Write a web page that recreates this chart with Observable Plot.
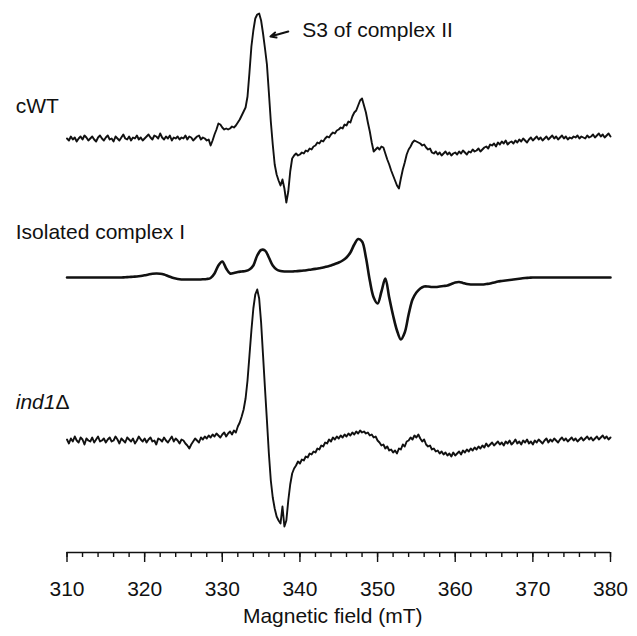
<!DOCTYPE html>
<html>
<head>
<meta charset="utf-8">
<script src="https://cdn.jsdelivr.net/npm/d3@7"></script>
<script src="https://cdn.jsdelivr.net/npm/@observablehq/plot@0.6"></script>
<style>
  html, body { margin: 0; padding: 0; background: #fff; }
  #chart svg { display: block; }
</style>
</head>
<body>
<div id="chart"></div>
<script>
// ---- Data ----
const fieldStart = 310;      // mT
const noisyStep = 0.25;      // mT per sample (cWT, ind1Δ)
const smoothStep = 0.5;      // mT per sample (isolated complex I)

// cWT spectrum, one row = 5 mT
const cwtSignal = [
  0,-2,2,-1,1,-3,0,2,-1,3,1,-2,0,2,-1,-3,1,3,0,-2,
  1,3,-1,0,-3,2,0,-2,1,4,0,-1,2,-2,1,0,3,-1,1,-2,
  0,2,4,1,-1,3,2,0,5,1,-1,2,0,3,-2,1,0,2,-1,1,
  0,3,-1,2,1,-2,0,2,3,-1,1,0,-2,-1,-7,-2,4,9,15,14,
  11,9,10,9,10,12,11,13,16,19,23,27,31,42,66,92,108,120,124,125,
  118,105,90,74,46,17,-6,-26,-36,-42,-47,-41,-50,-64,-53,-33,-20,-17,-15,-17,
  -16,-14,-15,-12,-13,-10,-11,-8,-7,-4,-5,-2,-3,0,2,1,4,6,5,8,
  9,11,10,14,13,17,16,22,26,28,33,38,40,33,26,16,7,-4,-13,-11,
  -9,-11,-8,-9,-15,-21,-26,-32,-37,-42,-47,-50,-40,-31,-24,-16,-11,-8,-4,-2,
  -3,-4,-5,-7,-6,-9,-11,-10,-14,-15,-13,-16,-14,-17,-15,-13,-16,-14,-17,-15,
  -14,-16,-13,-15,-12,-14,-16,-13,-14,-11,-13,-12,-10,-13,-11,-9,-8,-10,-6,-7,
  -5,-8,-4,-6,-3,-5,-2,-6,-4,-3,-5,-2,-4,-1,-3,0,-2,-4,-1,1,
  -2,0,2,-1,1,-2,0,2,-1,1,3,0,2,-1,1,3,0,2,-1,1,
  0,2,1,3,0,2,1,0,3,1,2,4,1,3,5,2,4,1,3,5,
  2
];

// Isolated complex I spectrum, one row = 5 mT
const complexISignal = [
  0,0,0,0,0,0,0,0,0,0,
  0,0,0,0,0,0.3,0.5,0.8,1,1.5,
  2.2,3,3.7,4,3.8,3,1.5,0,-1,-1.7,
  -2,-2,-2,-2,-2,-1.8,-1.5,-0.5,4,12,
  16,9,4,4.5,5.5,6,6.5,8,12,22,
  27.5,27,20,12,8,6.5,6,6,6,6.3,
  6.6,7,7.5,8,8.6,9.3,10,11,12,13.5,
  15,17,20,25,33,38.5,36,20,-3,-20,
  -26,-14,-1,-20,-38,-53,-62,-55,-37,-22,
  -15,-11,-9,-9,-9.5,-9.5,-9,-8.5,-8,-6.5,
  -5,-4.5,-5.5,-6.5,-7,-7,-7,-7,-6.5,-6,
  -5,-4,-3.5,-3,-2.5,-2,-1.5,-1,-0.5,-0.3,
  0,0,0,0,0,0,0,0,0,0,
  0,0,0,0,0,0,0,0,0,0,
  0
];

// ind1Δ spectrum, one row = 5 mT
const ind1Signal = [
  1,-3,2,-1,4,0,-2,3,1,-4,2,0,-1,3,-2,1,4,-1,0,2,
  -2,1,3,-1,0,4,1,-3,2,0,-2,3,1,-1,2,-3,0,4,1,-1,
  2,-2,1,3,-1,0,-4,2,1,-1,3,0,-2,1,4,-1,2,0,-3,1,
  0,-3,-5,-8,-4,-1,2,0,-2,3,1,4,2,5,3,6,4,7,5,3,
  6,8,4,7,9,6,10,8,14,18,24,31,42,60,85,110,132,146,151,142,
  118,85,52,20,-13,-40,-57,-68,-76,-80,-83,-66,-86,-80,-60,-44,-33,-28,-25,-21,
  -23,-19,-20,-16,-17,-13,-14,-11,-12,-8,-9,-5,-6,-2,-3,1,-1,3,1,4,
  2,5,3,6,4,7,5,8,6,9,7,10,8,9,7,8,5,6,3,4,
  0,-2,-5,-4,-8,-6,-10,-9,-12,-10,-13,-8,-9,-4,-6,-1,0,3,1,5,
  3,6,2,-1,1,-4,-6,-5,-9,-8,-11,-10,-13,-11,-14,-12,-15,-13,-16,-12,
  -15,-13,-11,-14,-10,-12,-9,-11,-8,-10,-7,-9,-6,-8,-5,-7,-3,-6,-4,-2,
  -5,-3,-1,-4,-2,-5,-1,-3,0,-4,-2,1,-3,-1,-4,0,-2,1,-3,-1,
  -4,0,-2,1,-1,-3,0,2,-2,1,-1,2,0,-2,1,3,0,2,-1,1,
  3,0,2,-1,1,3,0,2,4,1,3,0,2,4,1,3,5,2,4,1,
  3
];

const traceNames = ["cWT", "Isolated complex I", "ind1Δ"];
const majorTicks = [310, 320, 330, 340, 350, 360, 370, 380];
const minorTicks = [310,312,314,316,318,320,322,324,326,328,330,332,334,336,338,340,342,344,346,348,350,352,354,356,358,360,362,364,366,368,370,372,374,376,378,380];
const axisTitle = "Magnetic field (mT)";
const annotationText = "S3 of complex II";
const annotationField = 334.7; // S3 peak of complex II in cWT

// ---- Layout (stacking offsets, in the y scale's units) ----
const offsets = [414, 275, 112];
const labelRise = [32, 45, 38];
const labelField = 303.4;

const toPoints = (signal, step, off) =>
  signal.map((s, i) => ({field: fieldStart + i * step, value: off + s}));

const cwt = toPoints(cwtSignal, noisyStep, offsets[0]);
const cplx = toPoints(complexISignal, smoothStep, offsets[1]);
const ind1 = toPoints(ind1Signal, noisyStep, offsets[2]);

const labels = traceNames.map((name, i) => ({name, field: labelField, value: offsets[i] + labelRise[i]}));
// arrow pointing at the S3 peak, from the annotation text
const arrowData = [{
  x1: annotationField + 3.8, y1: offsets[0] + 107,
  x2: annotationField + 1.5, y2: offsets[0] + 102
}];
const annot = [{text: annotationText, field: annotationField + 5.6, value: offsets[0] + 108}];

const font = "'Liberation Sans', Arial, Helvetica, sans-serif";

const chart = Plot.plot({
  width: 637,
  height: 636,
  marginLeft: 66.5,
  marginRight: 27,
  marginTop: 0,
  marginBottom: 84,
  style: {fontFamily: font, fontSize: "21px", color: "#000", background: "#fff"},
  x: {domain: [310, 380], axis: null},
  y: {domain: [0, 552], axis: null},
  marks: [
    Plot.ruleY([0], {stroke: "#111", strokeWidth: 1.4}),
    Plot.axisX(minorTicks, {tickSize: 5, tickFormat: () => "", label: null, stroke: "#111", strokeWidth: 1.4}),
    Plot.axisX(majorTicks, {tickSize: 10, tickPadding: 19, fontSize: 21, label: null, stroke: "#111", strokeWidth: 1.4, fill: "#111"}),
    Plot.text([axisTitle], {frameAnchor: "bottom", dy: 70, dx: -6, fontSize: 21, fill: "#111"}),
    Plot.line(cwt, {x: "field", y: "value", stroke: "#111", strokeWidth: 1.9, strokeLinejoin: "round"}),
    Plot.line(cplx, {x: "field", y: "value", stroke: "#111", strokeWidth: 2.6, curve: "catmull-rom"}),
    Plot.line(ind1, {x: "field", y: "value", stroke: "#111", strokeWidth: 1.9, strokeLinejoin: "round"}),
    Plot.text(labels, {x: "field", y: "value", text: "name", textAnchor: "start", fontSize: 21, fill: "#111"}),
    Plot.arrow(arrowData, {x1: "x1", y1: "y1", x2: "x2", y2: "y2", stroke: "#111", strokeWidth: 2, headLength: 7, headAngle: 50}),
    Plot.text(annot, {x: "field", y: "value", text: "text", textAnchor: "start", fontSize: 21, fill: "#111"})
  ]
});

// italicise the gene name "ind1" (Δ stays upright)
d3.select(chart).selectAll("text").each(function() {
  if (this.textContent === "ind1Δ") {
    this.textContent = "";
    const t = d3.select(this);
    t.append("tspan").attr("font-style", "italic").text("ind1");
    t.append("tspan").text("Δ");
  }
});

document.getElementById("chart").appendChild(chart);
</script>
</body>
</html>
